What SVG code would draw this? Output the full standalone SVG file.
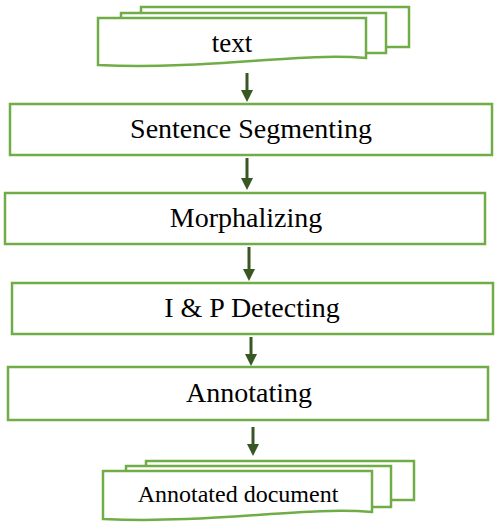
<svg xmlns="http://www.w3.org/2000/svg" width="496" height="527" viewBox="0 0 496 527">
<style>
.b{fill:#fff;stroke:#70AD47;stroke-width:2.5}
.t{font-family:"Liberation Serif","Times New Roman",serif;fill:#000;text-anchor:middle}
.c{stroke:#385723;stroke-width:3;fill:none}
.h{fill:#385723}
</style>
<rect width="496" height="527" fill="#fff"/>
<g id="n0">
<rect class="b" x="141" y="7" width="268" height="40"/>
<rect class="b" x="121" y="13" width="265" height="40"/>
<path class="b" d="M98,18 H366 V58 C 300,52 210,70 98,65 Z"/>
<text class="t" x="232" y="52" font-size="27">text</text>
</g>
<g id="n1">
<rect class="b" x="10" y="104" width="482" height="51"/>
<text class="t" x="251" y="138" font-size="28">Sentence Segmenting</text>
</g>
<g id="n2">
<rect class="b" x="5" y="193" width="480" height="51"/>
<text class="t" x="246" y="227" font-size="28">Morphalizing</text>
</g>
<g id="n3">
<rect class="b" x="12" y="283" width="481" height="51"/>
<text class="t" x="252" y="317" font-size="28">I &amp; P Detecting</text>
</g>
<g id="n4">
<rect class="b" x="8" y="367" width="480" height="53"/>
<text class="t" x="249" y="402" font-size="28">Annotating</text>
</g>
<g id="n5">
<rect class="b" x="146" y="461" width="268" height="39"/>
<rect class="b" x="126" y="466" width="265" height="41"/>
<path class="b" d="M103,471 H372 V512 C 305,506 215,524 103,519 Z"/>
<text class="t" x="238" y="502" font-size="24">Annotated document</text>
</g>
<g id="connectors">
<line class="c" x1="247" y1="73" x2="247" y2="92"/>
<polygon class="h" points="241,90 253,90 247,102"/>
<line class="c" x1="247" y1="158" x2="247" y2="180"/>
<polygon class="h" points="241,178 253,178 247,190"/>
<line class="c" x1="249" y1="247" x2="249" y2="271"/>
<polygon class="h" points="243,269 255,269 249,281"/>
<line class="c" x1="251" y1="337" x2="251" y2="356"/>
<polygon class="h" points="245,354 257,354 251,366"/>
<line class="c" x1="253" y1="427" x2="253" y2="446"/>
<polygon class="h" points="247,444 259,444 253,456"/>
</g>
</svg>
